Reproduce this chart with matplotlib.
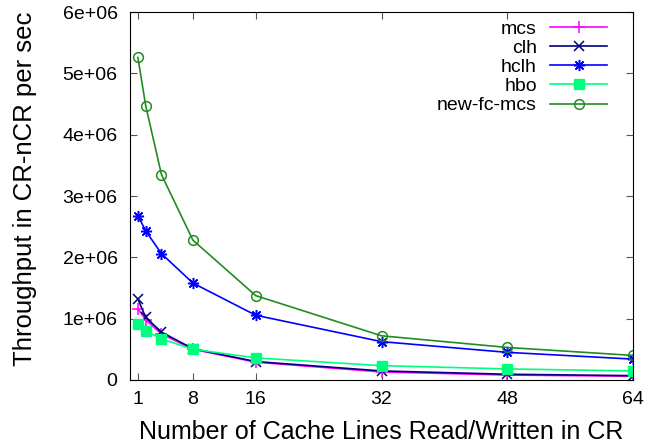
import numpy as np
from matplotlib import pyplot as plt

plt.rcParams['font.family'] = ['Liberation Sans', 'DejaVu Sans']

# cache lines read/written in CR
x = [1, 2, 4, 8, 16, 32, 48, 64]

mcs = [1.16e6, 0.98e6, 0.75e6, 0.50e6, 0.29e6, 0.13e6, 0.08e6, 0.06e6]
clh = [1.32e6, 1.02e6, 0.78e6, 0.51e6, 0.30e6, 0.147e6, 0.093e6, 0.07e6]
hclh = [2.68e6, 2.43e6, 2.06e6, 1.58e6, 1.055e6, 0.625e6, 0.45e6, 0.34e6]
hbo = [0.91e6, 0.80e6, 0.67e6, 0.50e6, 0.36e6, 0.233e6, 0.18e6, 0.147e6]
newfc = [5.26e6, 4.47e6, 3.35e6, 2.28e6, 1.375e6, 0.72e6, 0.53e6, 0.40e6]

xticks = [1, 8, 16, 32, 48, 64]
yticks = [0, 1e6, 2e6, 3e6, 4e6, 5e6, 6e6]
ylabels = ['0', '1e+06', '2e+06', '3e+06', '4e+06', '5e+06', '6e+06']

fig = plt.figure(figsize=(6.62, 4.47), dpi=100)
ax = fig.add_axes([0.1964, 0.150, 0.7598, 0.823])

lw = 1.2
ax.plot(x, mcs, '-', color='#ff00ff', marker='+', ms=8, mew=1.1, lw=lw, label='mcs')
ax.plot(x, clh, '-', color='#000080', marker='x', ms=6.5, mew=1.1, lw=lw, label='clh')
ax.plot(x, hclh, '-', color='#0000ff', marker=(8, 2, 0), ms=8, mew=1.1, lw=lw, label='hclh')
ax.plot(x, hbo, '-', color='#00ff7f', marker='s', ms=6.5, lw=lw, label='hbo')
ax.plot(x, newfc, '-', color='#228b22', marker='o', ms=7, mfc='none', mew=1.1, lw=lw, label='new-fc-mcs')

ax.set_xlim(0, 64)
ax.set_ylim(0, 6e6)
ax.set_xticks(xticks)
ax.set_xticklabels([str(v) for v in xticks])
ax.set_yticks(yticks)
ax.set_yticklabels(ylabels)
ax.tick_params(direction='in', top=True, right=True, labelsize=14, length=5, color='#555555')
ax.tick_params(axis='x', pad=8)
ax.tick_params(axis='y', pad=9)

ax.set_xlabel('Number of Cache Lines Read/Written in CR', fontsize=18)
ax.set_ylabel('Throughput in CR-nCR per sec', fontsize=18.5)
ax.xaxis.set_label_coords(0.5, -0.11)
ax.yaxis.set_label_coords(-0.185, 0.52)

leg = ax.legend(loc='upper right', frameon=False, fontsize=14, markerfirst=False,
                handlelength=2.9, labelspacing=0.08, borderaxespad=0.3,
                handletextpad=0.7, bbox_to_anchor=(0.975, 1.015))
for t in leg.get_texts():
    t.set_ha('right')
leg._legend_box.align = 'right'

plt.savefig('out.png', dpi=100)
